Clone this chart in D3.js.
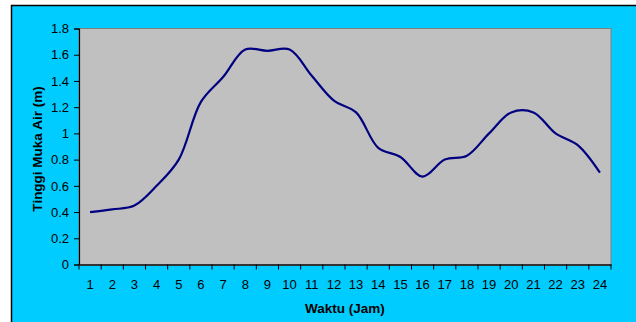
<!DOCTYPE html>
<html><head><meta charset="utf-8">
<script src="https://cdn.jsdelivr.net/npm/d3@7"></script>
<style>body{margin:0;background:#fff;}svg{display:block;}</style>
</head><body>
<svg id="c" width="636" height="322"></svg>
<script>
const hours = ["1","2","3","4","5","6","7","8","9","10","11","12","13","14","15","16","17","18","19","20","21","22","23","24"];
const waterLevel = [0.40,0.42,0.45,0.60,0.80,1.24,1.43,1.64,1.63,1.64,1.44,1.25,1.16,0.89,0.82,0.67,0.80,0.83,1.00,1.16,1.16,1.00,0.91,0.70];
const yTicks = [0,0.2,0.4,0.6,0.8,1,1.2,1.4,1.6,1.8];

const svg = d3.select("#c");
const W = 636, H = 322;
const m = {l:79, t:28.5, r:611, b:264.5};

svg.append("rect").attr("x",11.5).attr("y",5.5).attr("width",W).attr("height",H)
  .attr("fill","#00CCFF").attr("stroke","#000").attr("stroke-width",1.5);

const x = d3.scaleBand().domain(hours).range([m.l, m.r]);
const y = d3.scaleLinear().domain([0,1.8]).range([m.b, m.t]);

svg.append("rect").attr("x",m.l).attr("y",m.t).attr("width",m.r-m.l).attr("height",m.b-m.t)
  .attr("fill","#C0C0C0").attr("stroke","#808080").attr("stroke-width",1);

const font = "'Liberation Sans', Arial, sans-serif";

const yAx = svg.append("g").attr("transform",`translate(${m.l},0)`)
  .call(d3.axisLeft(y).tickValues(yTicks).tickSize(5).tickPadding(5).tickFormat(d=>String(d)));
yAx.select(".domain").attr("stroke","#000").attr("stroke-width",1.2);
yAx.selectAll("line").attr("stroke","#000");
yAx.selectAll("text").attr("font-family",font).attr("font-size","13px").attr("fill","#000");

const xAx = svg.append("g").attr("transform",`translate(0,${m.b})`)
  .call(d3.axisBottom(x).tickSize(0).tickPadding(15));
xAx.select(".domain").attr("stroke","#333").attr("stroke-width",2);
xAx.selectAll("text").attr("font-family",font).attr("font-size","13px").attr("fill","#000");
// boundary ticks between categories
const bounds = hours.map(h=>x(h)).concat([m.r]);
svg.append("g").selectAll("line").data(bounds).join("line")
  .attr("x1",d=>d).attr("x2",d=>d).attr("y1",m.b).attr("y2",m.b+5)
  .attr("stroke","#000").attr("stroke-width",1);

const line = d3.line()
  .x((d,i)=>x(hours[i]) + x.bandwidth()/2)
  .y(d=>y(d))
  .curve(d3.curveCatmullRom.alpha(0.5));
svg.append("path").datum(waterLevel).attr("d",line)
  .attr("fill","none").attr("stroke","#000080").attr("stroke-width",2.2);

svg.append("text").attr("x",345).attr("y",313).attr("text-anchor","middle")
  .attr("font-family",font).attr("font-size","13.5px").attr("font-weight","bold").text("Waktu (Jam)");
svg.append("text").attr("transform","translate(42,149) rotate(-90)").attr("text-anchor","middle")
  .attr("font-family",font).attr("font-size","13.5px").attr("font-weight","bold").text("Tinggi Muka Air (m)");
</script>
</body></html>
